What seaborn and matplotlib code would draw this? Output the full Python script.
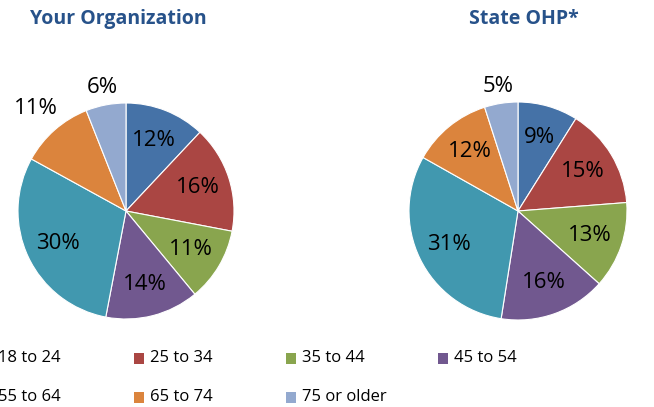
import numpy as np
import matplotlib
matplotlib.use("Agg")
import matplotlib.pyplot as plt
import seaborn as sns
from matplotlib.patches import Rectangle

# data
age_groups = ["18 to 24", "25 to 34", "35 to 44", "45 to 54",
              "55 to 64", "65 to 74", "75 or older"]
your_org = [12, 16, 11, 14, 30, 11, 6]
state_ohp = [9, 15, 13, 16, 31, 12, 5]
titles = ["Your Organization", "State OHP*"]

sns.set_style("white")
plt.rcParams['font.family'] = ['Open Sans', 'DejaVu Sans']

colors = ["#4572A7", "#AA4643", "#89A54E", "#71588F",
          "#4198AF", "#DB843D", "#93A9CF"]
sns.set_palette(colors)

W, H = 654, 407
fig = plt.figure(figsize=(W / 100, H / 100), dpi=100)

# (center x, center y, radius) in pixels, plus labels that sit outside
pie_boxes = [(126, 211, 108), (518, 211, 109)]
outside = [{5: 1.26, 6: 1.16}, {6: 1.16}]
title_x = [118, 524]

for k, values in enumerate([your_org, state_ohp]):
    cx, cy, r = pie_boxes[k]
    ax = fig.add_axes([(cx - r) / W, (H - cy - r) / H, 2 * r / W, 2 * r / H])
    wedges, _ = ax.pie(values, colors=colors, startangle=90, counterclock=False,
                       wedgeprops=dict(edgecolor="white", linewidth=0.8))
    ax.set_xlim(-1, 1)
    ax.set_ylim(-1, 1)
    ax.set_aspect("equal")
    ax.axis("off")
    for i, w in enumerate(wedges):
        ang = np.deg2rad((w.theta1 + w.theta2) / 2)
        d = outside[k].get(i, 0.70)
        ax.text(d * np.cos(ang), d * np.sin(ang), f"{values[i]}%",
                ha="center", va="center", fontsize=16, color="black")
    fig.text(title_x[k] / W, 1 - 19 / H, titles[k], ha="center", va="center",
             fontsize=14, fontweight="bold", color="#27528A")

# legend laid out in a fixed grid like the original (partly cut off on the left)
col_x = [-18, 134, 286, 438]
row_y = [358, 397]
for i, lab in enumerate(age_groups):
    x = col_x[i % 4]
    y = row_y[i // 4]
    fig.patches.append(Rectangle((x / W, (H - y - 5.5) / H), 10 / W, 11 / H,
                                 transform=fig.transFigure, facecolor=colors[i],
                                 edgecolor="none"))
    fig.text((x + 16) / W, 1 - y / H, lab, ha="left", va="center",
             fontsize=12, color="black")

fig.savefig("out.png", dpi=100)
